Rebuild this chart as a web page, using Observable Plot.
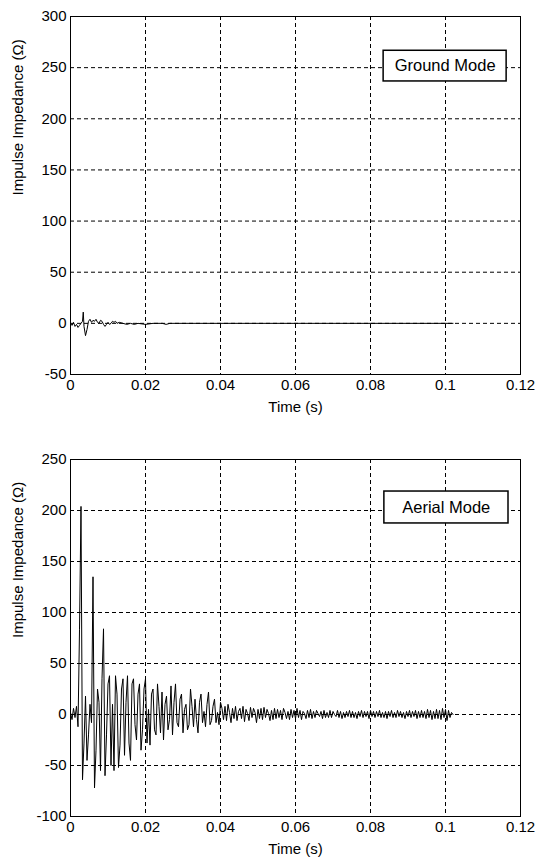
<!DOCTYPE html>
<html>
<head>
<meta charset="utf-8">
<script src="https://cdn.jsdelivr.net/npm/d3@7"></script>
<script src="https://cdn.jsdelivr.net/npm/@observablehq/plot@0.6"></script>
<style>
  html, body { margin: 0; padding: 0; background: #fff; }
  svg { display: block; }
</style>
</head>
<body>
<div id="chart"></div>
<script>
// ---- data ----
const xTicks = [0, 0.02, 0.04, 0.06, 0.08, 0.1, 0.12];
const xTickLabels = ["0", "0.02", "0.04", "0.06", "0.08", "0.1", "0.12"];
const groundYTicks = [-50, 0, 50, 100, 150, 200, 250, 300];
const aerialYTicks = [-100, -50, 0, 50, 100, 150, 200, 250];
const xLabel = "Time (s)";
const yLabel = "Impulse Impedance (Ω)";
const groundLabel = "Ground Mode";
const aerialLabel = "Aerial Mode";

// Ground mode impulse impedance (time s, value ohm)
const groundT = [0, 0.0004, 0.0008, 0.0012, 0.0016, 0.002, 0.0024, 0.0028, 0.0032, 0.0034,
  0.0036, 0.004, 0.0044, 0.0048, 0.0052, 0.0056, 0.006, 0.0064, 0.0068, 0.0072,
  0.0076, 0.008, 0.0084, 0.0088, 0.0092, 0.0096, 0.01, 0.0104, 0.0108, 0.0112,
  0.0116, 0.012, 0.0124, 0.013, 0.014, 0.015, 0.016, 0.017, 0.018, 0.02,
  0.022, 0.0245, 0.0255, 0.0265, 0.03, 0.05, 0.07, 0.09, 0.102];
const groundZ = [0, -2, 1, -3, -1, -4, -2, 0, 2, 11,
  -3, -12, -6, 2, 4, 1, 3, 2, 4, 1,
  0, 3, 2, -1, -3, -1, 1, -1, 0, 2,
  1, 2, 0, 1, 0, -1, 0, -1, 0, -1,
  0, 0, -1, 0, 0, 0, 0, 0, 0];

// Aerial mode impulse impedance, sampled every 0.0004 s from 0 to 0.102 s
const aerialStep = 0.0004;
const aerialZ = [
  2, -5, 6, -3, 8, -12, 83, 204, -64, -28,
  18, -45, -20, 10, -8, 135, -72, -35, 25, 12,
  -55, 35, 84, -60, -20, 30, 38, -50, 10, -55,
  38, 20, -52, -30, 25, 35, -40, 12, 38, -28,
  -45, 30, 35, -10, -25, 20, 30, -35, -15, 25,
  35, -28, 5, -30, 20, 25, -15, -20, 30, 8,
  -18, 22, -25, 10, 18, -15, -5, 28, -20, 12,
  30, -8, -12, 15, 20, -18, 5, 10, -15, -10,
  25, 8, -12, 15, -5, -18, 12, 20, -8, 3,
  -12, 10, 22, -10, -6, 8, 15, -8, 2, -10,
  12, 6, -5, 8, -6, 10, 2, -8, 6, -4,
  8, -6, 3, 6, -4, 8, -7, 5, 1, -6,
  7, -3, 6, 2, -8, 5, -4, 6, -5, 7,
  -3, 5, 1, -6, 4, -5, 6, -4, 5, -3,
  4, -5, 6, 2, -4, 3, -5, 5, -3, 4,
  -4, 6, -3, 4, -5, 3, 1, -4, 4, -3,
  5, -4, 3, -3, 4, 1, -2, 3, -4, 4,
  -3, 2, -3, 4, -3, 3, 0, -2, 4, -3,
  3, -4, 2, -3, 3, -2, 4, -3, 3, -3,
  2, -4, 3, -2, 4, -3, 3, -2, 3, -4,
  4, -2, 3, -3, 3, -2, 4, -3, 2, -3,
  3, -4, 3, -2, 4, -3, 2, -3, 4, -2,
  3, -3, 2, -4, 3, -2, 4, -3, 3, -2,
  4, -4, 3, -3, 4, -3, 3, -4, 5, -3,
  4, -5, 3, -4, 5, -4, 4, -5, 6, -3,
  5, -6, 4, -3, 2, 0
];

const groundData = groundT.map((t, i) => ({t, z: groundZ[i]}));
const aerialData = aerialZ.map((z, i) => ({t: i * aerialStep, z}));

const FONT = "'Liberation Sans', Arial, Helvetica, sans-serif";

function panel({data, yTicks, label, box, textPos, height, marginTop, marginBottom}) {
  const yDomain = [yTicks[0], yTicks[yTicks.length - 1]];
  return Plot.plot({
    width: 538,
    height,
    marginLeft: 70,
    marginRight: 18,
    marginTop,
    marginBottom,
    style: {fontFamily: FONT, fontSize: "15px", color: "black", background: "white"},
    x: {domain: [0, 0.12]},
    y: {domain: yDomain},
    marks: [
      Plot.gridX(xTicks.slice(1, -1), {stroke: "black", strokeOpacity: 1, strokeDasharray: "4,3"}),
      Plot.gridY(yTicks.slice(1, -1), {stroke: "black", strokeOpacity: 1, strokeDasharray: "4,3"}),
      Plot.line(data, {x: "t", y: "z", stroke: "black", strokeWidth: 1}),
      Plot.frame({stroke: "black", strokeWidth: 1}),
      Plot.axisX(xTicks, {tickSize: 0, tickPadding: 5, fontSize: 15, label: null,
        tickFormat: (d) => xTickLabels[xTicks.indexOf(d)]}),
      Plot.axisY(yTicks, {tickSize: 0, tickPadding: 4, fontSize: 15, label: null,
        tickFormat: (d) => String(d)}),
      Plot.text([xLabel], {frameAnchor: "bottom", dy: 37, fontSize: 15}),
      Plot.text([yLabel], {frameAnchor: "left", rotate: -90, dx: -52, fontSize: 15}),
      Plot.rect([label], {x1: box[0], x2: box[1], y1: box[2], y2: box[3], fill: "white", stroke: "black", strokeWidth: 1.5}),
      Plot.text([label], {x: textPos[0], y: textPos[1], fontSize: 16.5})
    ]
  });
}

const topPanel = panel({
  data: groundData, yTicks: groundYTicks, label: groundLabel,
  box: [0.0835, 0.1163, 236.5, 266.5], textPos: [0.0999, 251.5],
  height: 428, marginTop: 16, marginBottom: 54
});
const bottomPanel = panel({
  data: aerialData, yTicks: aerialYTicks, label: aerialLabel,
  box: [0.0837, 0.1168, 187.3, 218.6], textPos: [0.1002, 203],
  height: 429, marginTop: 31, marginBottom: 41
});
document.getElementById("chart").append(topPanel, bottomPanel);
</script>
</body>
</html>
